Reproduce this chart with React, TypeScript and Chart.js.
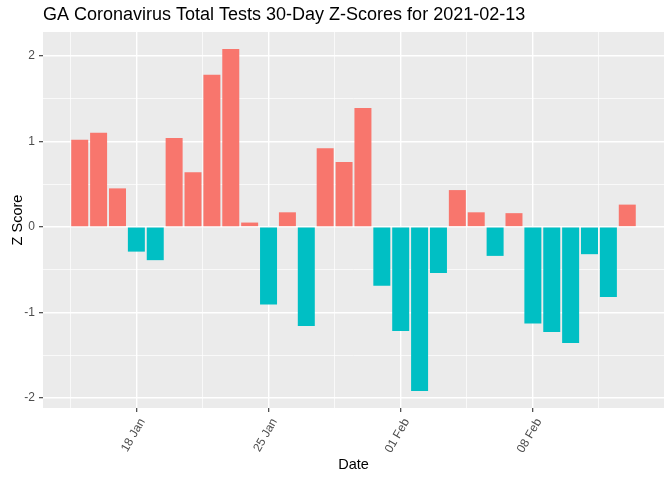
import { useEffect, useRef } from 'react';
import { Chart, registerables } from 'chart.js';

Chart.register(...registerables);

const dates = [
  '2021-01-15', '2021-01-16', '2021-01-17', '2021-01-18', '2021-01-19', '2021-01-20',
  '2021-01-21', '2021-01-22', '2021-01-23', '2021-01-24', '2021-01-25', '2021-01-26',
  '2021-01-27', '2021-01-28', '2021-01-29', '2021-01-30', '2021-01-31', '2021-02-01',
  '2021-02-02', '2021-02-03', '2021-02-04', '2021-02-05', '2021-02-06', '2021-02-07',
  '2021-02-08', '2021-02-09', '2021-02-10', '2021-02-11', '2021-02-12', '2021-02-13',
];

const zScores = [
  1.02, 1.1, 0.45, -0.29, -0.39, 1.04,
  0.64, 1.78, 2.08, 0.05, -0.91, 0.17,
  -1.16, 0.92, 0.76, 1.39, -0.69, -1.22,
  -1.92, -0.54, 0.43, 0.17, -0.34, 0.16,
  -1.13, -1.23, -1.36, -0.32, -0.82, 0.26,
];

const xTickDates = ['2021-01-18', '2021-01-25', '2021-02-01', '2021-02-08'];
const xTickLabels = ['18 Jan', '25 Jan', '01 Feb', '08 Feb'];
const yMajorTicks = [-2, -1, 0, 1, 2];
const yMinorTicks = [-1.5, -0.5, 0.5, 1.5];

const titleText = 'GA Coronavirus Total Tests 30-Day Z-Scores for 2021-02-13';
const xTitle = 'Date';
const yTitle = 'Z Score';

const POS_COLOR = '#F8766D';
const NEG_COLOR = '#00BFC4';
const PANEL_BG = '#EBEBEB';
const TICK_TEXT = '#4D4D4D';
const FONT = "'Liberation Sans', Arial, sans-serif";

const panelBackground = {
  id: 'panelBackground',
  beforeDraw(chart: any) {
    const { ctx, chartArea } = chart;
    if (!chartArea) return;
    ctx.save();
    ctx.fillStyle = PANEL_BG;
    ctx.fillRect(chartArea.left, chartArea.top, chartArea.right - chartArea.left, chartArea.bottom - chartArea.top);
    ctx.restore();
  },
};

export default function App() {
  const canvasRef = useRef<HTMLCanvasElement | null>(null);

  useEffect(() => {
    if (!canvasRef.current) return;

    const n = dates.length;
    const xMinData = -0.45;
    const xMaxData = n - 1 + 0.45;
    const xPad = (xMaxData - xMinData) * 0.05;
    const yLo = Math.min(0, ...zScores);
    const yHi = Math.max(0, ...zScores);
    const yPad = (yHi - yLo) * 0.05;

    const xMajor = xTickDates.map((d) => dates.indexOf(d));
    const xMinor = [...xMajor.map((m) => m - 3.5), xMajor[xMajor.length - 1] + 3.5];
    const xAll = [...xMajor, ...xMinor].sort((a, b) => a - b);
    const yAll = [...yMajorTicks, ...yMinorTicks].sort((a, b) => a - b);

    const isXMajor = (v: number) => xMajor.includes(v);
    const isYMajor = (v: number) => yMajorTicks.includes(v);

    const chart = new Chart(canvasRef.current, {
      type: 'bar',
      data: {
        datasets: [
          {
            data: zScores.map((y, i) => ({ x: i, y })),
            backgroundColor: zScores.map((v) => (v >= 0 ? POS_COLOR : NEG_COLOR)),
            borderWidth: 0,
            categoryPercentage: 1,
            barPercentage: 0.9,
          },
        ],
      },
      options: {
        animation: false,
        responsive: true,
        maintainAspectRatio: false,
        layout: { padding: { left: 0, right: 8, top: 0, bottom: 0 } },
        plugins: {
          legend: { display: false },
          tooltip: { enabled: false },
          title: {
            display: true,
            text: titleText,
            align: 'start',
            fullSize: false,
            color: '#000000',
            font: { family: FONT, size: 18, weight: 'normal' },
            padding: { top: 4.2, bottom: 6.2 },
          },
        },
        scales: {
          x: {
            type: 'linear',
            offset: false,
            min: xMinData - xPad,
            max: xMaxData + xPad,
            afterBuildTicks: (scale: any) => {
              scale.ticks = xAll.map((v) => ({ value: v }));
            },
            afterFit: (scale: any) => {
              scale.height = 72;
            },
            ticks: {
              autoSkip: false,
              minRotation: 60,
              maxRotation: 60,
              padding: 4,
              labelOffset: 6,
              color: TICK_TEXT,
              font: { family: FONT, size: 12 },
              callback: (v: any) => {
                const idx = xMajor.indexOf(Number(v));
                return idx >= 0 ? xTickLabels[idx] : '';
              },
            },
            grid: {
              offset: false,
              color: '#FFFFFF',
              lineWidth: (ctx: any) => (isXMajor(ctx.tick?.value) ? 1.4 : 0.7),
              tickColor: (ctx: any) => (isXMajor(ctx.tick?.value) ? '#333333' : 'rgba(0,0,0,0)'),
              tickWidth: 1.1,
              tickLength: 4,
            },
            border: { display: false },
            title: {
              display: true,
              text: xTitle,
              color: '#000000',
              font: { family: FONT, size: 14.5 },
              padding: { top: 0, bottom: 6.3 },
            },
          },
          y: {
            type: 'linear',
            min: yLo - yPad,
            max: yHi + yPad,
            afterBuildTicks: (scale: any) => {
              scale.ticks = yAll.map((v) => ({ value: v }));
            },
            afterFit: (scale: any) => {
              scale.width = 43;
            },
            ticks: {
              padding: 4,
              color: TICK_TEXT,
              font: { family: FONT, size: 12 },
              callback: (v: any) => (isYMajor(Number(v)) ? String(v) : ''),
            },
            grid: {
              color: '#FFFFFF',
              lineWidth: (ctx: any) => (isYMajor(ctx.tick?.value) ? 1.4 : 0.7),
              tickColor: (ctx: any) => (isYMajor(ctx.tick?.value) ? '#333333' : 'rgba(0,0,0,0)'),
              tickWidth: 1.1,
              tickLength: 4,
            },
            border: { display: false },
            title: {
              display: true,
              text: yTitle,
              color: '#000000',
              font: { family: FONT, size: 14.5 },
              padding: { top: 9.5, bottom: 0 },
            },
          },
        },
      },
      plugins: [panelBackground],
    } as any);

    return () => chart.destroy();
  }, []);

  return (
    <div style={{ position: 'absolute', left: 0, top: 0, width: 672, height: 480 }}>
      <canvas ref={canvasRef} />
    </div>
  );
}
